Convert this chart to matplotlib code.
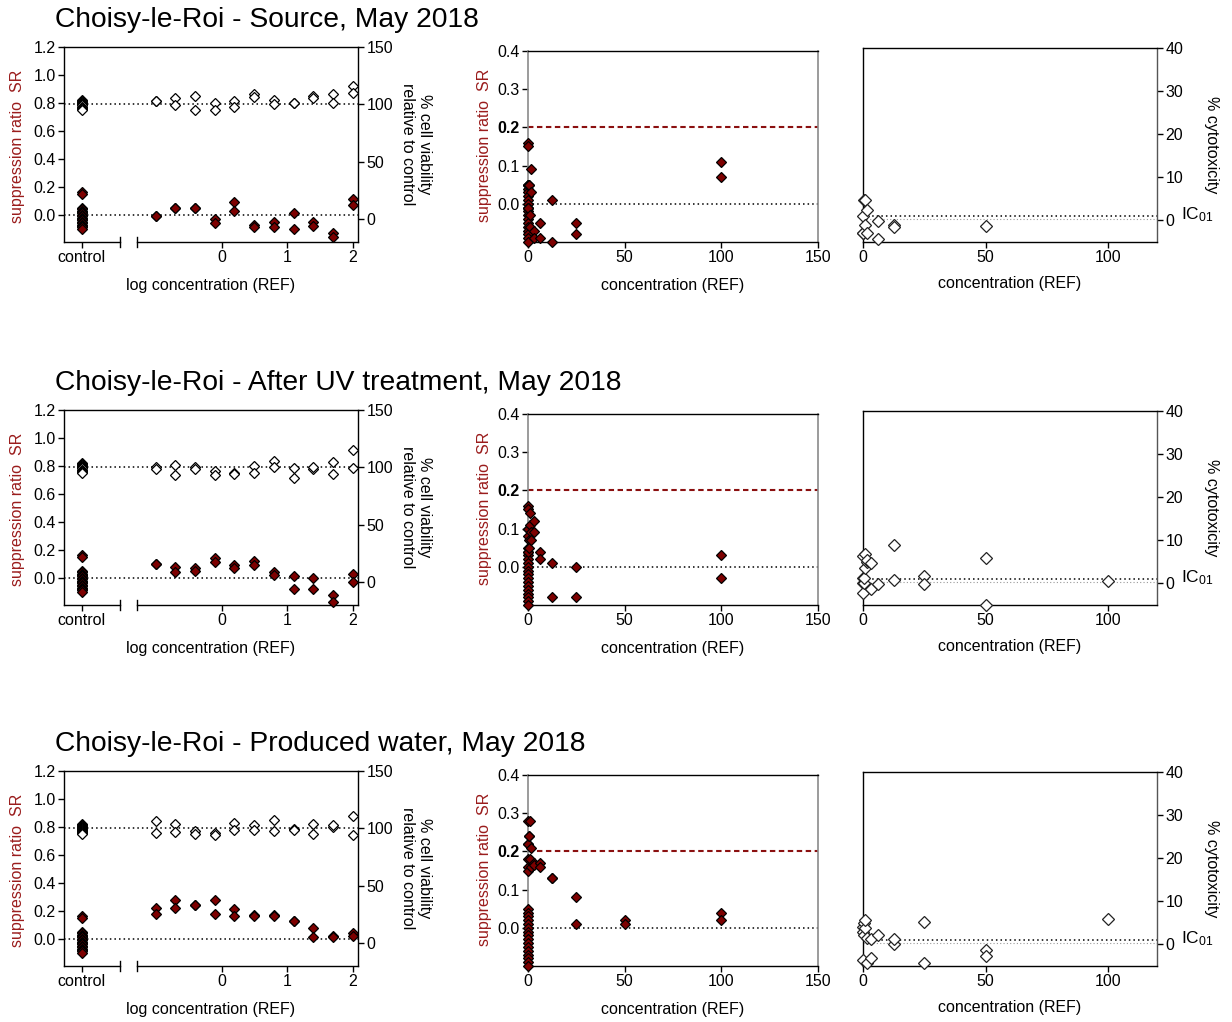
import numpy as np
import matplotlib
matplotlib.use("Agg")
import matplotlib.pyplot as plt

plt.rcParams['font.family'] = ['Liberation Sans', 'DejaVu Sans']
plt.rcParams['mathtext.fontset'] = 'custom'
plt.rcParams['mathtext.rm'] = 'Liberation Sans'

# ---------------------------------------------------------------- data
sample_titles = [
    "Choisy-le-Roi - Source, May 2018",
    "Choisy-le-Roi - After UV treatment, May 2018",
    "Choisy-le-Roi - Produced water, May 2018",
]

# dilution series tested (REF)
concentration = [0.098, 0.195, 0.39, 0.78, 1.5625, 3.125, 6.25, 12.5, 25, 50, 100]

# solvent controls (shared by all samples)
control_sr = [0.16, 0.15, 0.05, 0.04, 0.03, 0.02, 0.01, 0.0, -0.01, -0.02,
              -0.03, -0.04, -0.05, -0.06, -0.07, -0.08, -0.09, -0.10]
control_viability = [104, 103, 102, 101, 100.5, 100, 99.5, 99, 98, 97, 96, 95.5]

# suppression ratio, two replicates per concentration
sr_source = [(-0.01, -0.01), (0.05, 0.05), (0.05, 0.05), (-0.03, -0.06),
             (0.09, 0.03), (-0.07, -0.09), (-0.05, -0.09), (0.01, -0.10),
             (-0.05, -0.08), (-0.13, -0.16), (0.11, 0.07)]
sr_uv = [(0.10, 0.10), (0.08, 0.04), (0.07, 0.05), (0.14, 0.11),
         (0.09, 0.07), (0.12, 0.09), (0.04, 0.02), (0.01, -0.08),
         (0.0, -0.08), (-0.12, -0.17), (0.03, -0.03)]
sr_produced = [(0.22, 0.18), (0.28, 0.22), (0.24, 0.24), (0.28, 0.18),
               (0.21, 0.16), (0.17, 0.165), (0.17, 0.16), (0.13, 0.13),
               (0.08, 0.01), (0.02, 0.01), (0.04, 0.02)]

# % cell viability relative to control, two replicates per concentration
viab_source = [(103, 103), (105.5, 99), (107, 95.2), (101, 95.3),
               (103, 97.5), (108.7, 106), (104.2, 100.1), (101, 101.6),
               (107, 105.8), (109, 101.3), (116, 110)]
viab_uv = [(100, 98.8), (102.3, 93.6), (100, 98.8), (96.5, 93.2),
           (95, 94.5), (101.4, 95.3), (105.8, 100.2), (99.2, 91.1),
           (98.3, 100.2), (94, 105), (114.8, 99.5)]
viab_produced = [(106.4, 96), (103.5, 97), (97.7, 95), (96.2, 94.3),
                 (104.3, 98.5), (103.1, 98.7), (107.5, 97.8), (99.8, 98.8),
                 (104.2, 94.8), (101.4, 102.7), (110.7, 94.2)]

sr_threshold = 0.2       # EC_SR0.2 effect level
ic01_level = 1.0         # 1 % cytotoxicity
baseline_level = 0.3

sr_sets = [sr_source, sr_uv, sr_produced]
viab_sets = [viab_source, viab_uv, viab_produced]

# ---------------------------------------------------------------- style
W, H = 1232, 1022
RED = '#7d0000'
LABEL_RED = '#9a1c1c'
GREY_SPINE = '#8a8a8a'
TICK_FS = 11.5
LABEL_FS = 11.5
DOT = (0, (1, 2))

CONTROL_X = -2.14          # position of the control column on the log axis
BREAK_LO, BREAK_HI = -1.56, -1.30
LOG_XLIM = (-2.41, 2.08)
ROW_OFFSETS = [0, 363, 724]


def px_rect(l, t, r, b):
    return [l / W, 1 - b / H, (r - l) / W, (b - t) / H]


def style_ticks(ax):
    ax.tick_params(direction='out', length=4, width=1, labelsize=TICK_FS,
                   pad=2, colors='black')


fig = plt.figure(figsize=(W / 100, H / 100), dpi=100)

for row in range(3):
    off = ROW_OFFSETS[row]
    sr = np.array(sr_sets[row], dtype=float)
    viab = np.array(viab_sets[row], dtype=float)
    conc_rep = np.repeat(concentration, 2)
    log_rep = np.log10(conc_rep)

    fig.text(55 / W, 1 - (20 + off) / H, sample_titles[row], fontsize=20.3,
             ha='left', va='center')

    # ------------------------------------------- log concentration panel
    ax = fig.add_axes(px_rect(64, 47 + off, 358, 242 + off))
    ax2 = ax.twinx()
    ax.set_xlim(*LOG_XLIM)
    ax.set_ylim(-0.195, 1.2)
    ax2.set_ylim(-20, 150)

    ax.axhline(0, color='black', lw=1.1, ls=DOT, zorder=1)
    ax2.axhline(100, color='black', lw=1.1, ls=DOT, zorder=1)

    ax.plot([CONTROL_X] * len(control_sr), control_sr, 'D', ms=5.2,
            mfc=RED, mec='black', mew=0.9, clip_on=False, zorder=3)
    ax.plot(log_rep, sr.ravel(), 'D', ms=5.2, mfc=RED, mec='black',
            mew=0.9, clip_on=False, zorder=3)
    ax2.plot([CONTROL_X] * len(control_viability), control_viability, 'D',
             ms=5.5, mfc='white', mec='black', mew=0.9, clip_on=False, zorder=3)
    ax2.plot(log_rep, viab.ravel(), 'D', ms=5.5, mfc='white', mec='black',
             mew=0.9, clip_on=False, zorder=3)

    for s in ['bottom', 'right']:
        ax.spines[s].set_visible(False)
    for s in ['bottom', 'left', 'top']:
        ax2.spines[s].set_visible(False)
    ax2.spines['right'].set_linewidth(1)
    ax.spines['left'].set_linewidth(1)
    ax.spines['top'].set_linewidth(1)

    # broken x axis
    xt = ax.get_xaxis_transform()
    ax.plot([LOG_XLIM[0], BREAK_LO], [0, 0], color='black', lw=1,
            transform=xt, clip_on=False)
    ax.plot([BREAK_HI, LOG_XLIM[1]], [0, 0], color='black', lw=1,
            transform=xt, clip_on=False)
    for bx in (BREAK_LO, BREAK_HI):
        ax.plot([bx, bx], [-0.026, 0.026], color='black', lw=1,
                transform=xt, clip_on=False)

    ax.set_xticks([CONTROL_X, 0, 1, 2])
    ax.set_xticklabels(['control', '0', '1', '2'])
    ax.set_yticks(np.arange(0, 1.21, 0.2))
    ax.set_yticklabels([f'{v:.1f}' for v in np.arange(0, 1.21, 0.2)])
    ax2.set_yticks([0, 50, 100, 150])
    style_ticks(ax)
    style_ticks(ax2)
    ax.set_xlabel('log concentration (REF)', fontsize=LABEL_FS, labelpad=9)

    fig.text(18 / W, 1 - (146 + off) / H, 'suppression ratio  SR',
             rotation=90, color=LABEL_RED, fontsize=LABEL_FS,
             ha='center', va='center')
    fig.text(416 / W, 1 - (144 + off) / H,
             '% cell viability\nrelative to control', rotation=270,
             fontsize=LABEL_FS, ha='center', va='center',
             multialignment='center', linespacing=1.15)

    # ------------------------------------------- linear SR panel
    bx_ = fig.add_axes(px_rect(528, 51 + off, 818, 242 + off))
    bx_.set_xlim(0, 150)
    bx_.set_ylim(-0.1, 0.4)
    xs = np.concatenate([np.zeros(len(control_sr)), conc_rep])
    ys = np.concatenate([control_sr, sr.ravel()])
    keep = (ys >= -0.1 - 1e-9) & (ys <= 0.4)
    bx_.axhline(sr_threshold, color='#8b1010', lw=1.5, ls=(0, (2.6, 1.7)),
                zorder=1)
    bx_.axhline(0, color='black', lw=1.1, ls=DOT, zorder=1)
    bx_.plot(xs[keep], ys[keep], 'D', ms=5.6, mfc=RED, mec='black', mew=0.9,
             clip_on=False, zorder=3)
    for s in ['left', 'right']:
        bx_.spines[s].set_color(GREY_SPINE)
        bx_.spines[s].set_linewidth(1.2)
    for s in ['top', 'bottom']:
        bx_.spines[s].set_linewidth(1)
    bx_.set_xticks([0, 50, 100, 150])
    bx_.set_yticks([0, 0.1, 0.2, 0.3, 0.4])
    bx_.set_yticklabels(['0.0', '0.1', '0.2', '0.3', '0.4'])
    style_ticks(bx_)
    bx_.get_yticklabels()[2].set_fontweight('bold')
    bx_.set_xlabel('concentration (REF)', fontsize=LABEL_FS, labelpad=9)
    fig.text(485 / W, 1 - (145 + off) / H, 'suppression ratio  SR',
             rotation=90, color=LABEL_RED, fontsize=LABEL_FS,
             ha='center', va='center')

    # ------------------------------------------- cytotoxicity panel
    cx = fig.add_axes(px_rect(863, 48 + off, 1157, 242 + off))
    cx.set_xlim(0, 120)
    cx.set_ylim(-5, 40)
    cyto = 100 - viab.ravel()
    keep = (cyto >= -5.05) & (cyto <= 40)
    cx.axhline(baseline_level, color='#9a9a9a', lw=0.8, ls=DOT, zorder=1)
    cx.axhline(ic01_level, color='black', lw=1.1, ls=DOT, zorder=1)
    cx.plot(conc_rep[keep], cyto[keep], 'D', ms=5.9, mfc='white',
            mec='#222222', mew=0.9, clip_on=False, zorder=3)
    cx.yaxis.tick_right()
    cx.spines['right'].set_color('#555555')
    for s in cx.spines.values():
        s.set_linewidth(1)
    cx.set_xticks([0, 50, 100])
    cx.set_yticks([0, 10, 20, 30, 40])
    style_ticks(cx)
    cx.set_xlabel('concentration (REF)', fontsize=LABEL_FS, labelpad=8)
    cx.annotate(r'$\mathregular{IC_{01}}$', xy=(1, ic01_level),
                xycoords=cx.get_yaxis_transform(), xytext=(17, 1),
                textcoords='offset points', fontsize=12.5,
                ha='left', va='center')
    fig.text(1211 / W, 1 - (145 + off) / H, '% cytotoxicity', rotation=270,
             fontsize=LABEL_FS, ha='center', va='center')

fig.savefig('out.png', dpi=100)
